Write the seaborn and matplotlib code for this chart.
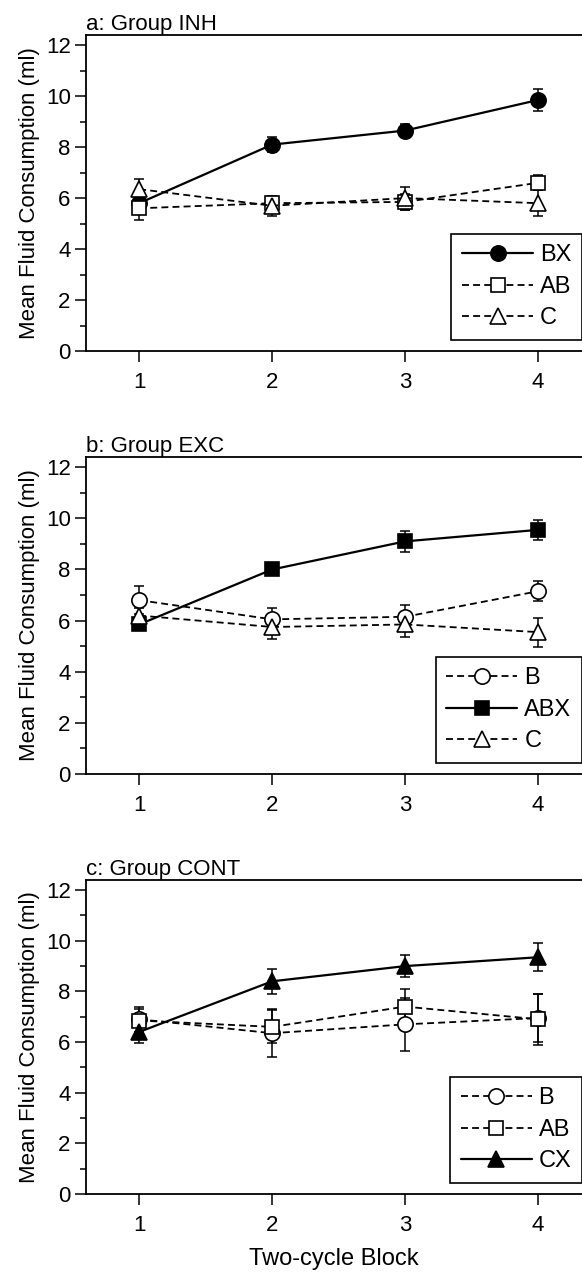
import matplotlib
matplotlib.use("Agg")
import matplotlib.pyplot as plt
import seaborn as sns
import pandas as pd
from matplotlib.ticker import MultipleLocator

# ---------------- data ----------------
blocks = [1, 2, 3, 4]
xtick_labels = ["1", "2", "3", "4"]

# Panel a: Group INH
inh_bx = [5.8, 8.1, 8.65, 9.85]
inh_bx_err = [0.25, 0.3, 0.25, 0.45]
inh_ab = [5.6, 5.8, 5.85, 6.6]
inh_ab_err = [0.45, 0.25, 0.3, 0.3]
inh_c = [6.35, 5.7, 6.0, 5.8]
inh_c_err = [0.4, 0.4, 0.45, 0.5]

# Panel b: Group EXC
exc_b = [6.8, 6.05, 6.15, 7.15]
exc_b_err = [0.55, 0.45, 0.45, 0.4]
exc_abx = [5.85, 8.0, 9.1, 9.55]
exc_abx_err = [0.15, 0.2, 0.4, 0.4]
exc_c = [6.2, 5.75, 5.85, 5.55]
exc_c_err = [0.3, 0.45, 0.5, 0.57]

# Panel c: Group CONT
cont_b = [6.9, 6.35, 6.7, 6.95]
cont_b_err = [0.5, 0.95, 1.05, 0.93]
cont_ab = [6.85, 6.6, 7.4, 6.9]
cont_ab_err = [0.45, 0.65, 0.7, 1.0]
cont_cx = [6.4, 8.4, 9.0, 9.35]
cont_cx_err = [0.45, 0.5, 0.45, 0.55]

panel_titles = ["a: Group INH", "b: Group EXC", "c: Group CONT"]
ylabel = "Mean Fluid Consumption (ml)"
xlabel = "Two-cycle Block"

# ---------------- style ----------------
sns.set_style("ticks")
plt.rcParams["font.family"] = ["Liberation Sans", "DejaVu Sans"]
plt.rcParams["lines.scale_dashes"] = False
plt.rcParams["text.color"] = "black"
plt.rcParams["axes.labelcolor"] = "black"
plt.rcParams["xtick.color"] = "black"
plt.rcParams["ytick.color"] = "black"

FS = 16
DASH = (0, (5, 3))

styles = {
    "BX":  dict(marker="o", mfc="black", ls="-",  ms=11),
    "ABX": dict(marker="s", mfc="black", ls="-",  ms=10.5),
    "CX":  dict(marker="^", mfc="black", ls="-",  ms=12),
    "AB":  dict(marker="s", mfc="white", ls=DASH, ms=10.5),
    "B":   dict(marker="o", mfc="white", ls=DASH, ms=11),
    "C":   dict(marker="^", mfc="white", ls=DASH, ms=12),
}

panels = [
    [("BX", inh_bx, inh_bx_err), ("AB", inh_ab, inh_ab_err), ("C", inh_c, inh_c_err)],
    [("B", exc_b, exc_b_err), ("ABX", exc_abx, exc_abx_err), ("C", exc_c, exc_c_err)],
    [("B", cont_b, cont_b_err), ("AB", cont_ab, cont_ab_err), ("CX", cont_cx, cont_cx_err)],
]

W, H = 582, 1277
fig = plt.figure(figsize=(W / 100, H / 100), dpi=100)

# (top px, bottom px) of each axes
ax_px = [(35, 351), (457, 774), (880, 1194)]
left_px, right_px = 86, 582

for i, (series, (top, bot)) in enumerate(zip(panels, ax_px)):
    ax = fig.add_axes([left_px / W, 1 - bot / H, (right_px - left_px) / W, (bot - top) / H])
    for name, vals, errs in series:
        st = styles[name]
        df = pd.DataFrame({"block": blocks, "value": vals})
        ax.errorbar(blocks, vals, yerr=errs, fmt="none", ecolor="black",
                    elinewidth=1.1, capsize=3.8, capthick=1.1, zorder=2)
        sns.lineplot(data=df, x="block", y="value", ax=ax, color="black",
                     marker=st["marker"], markersize=st["ms"],
                     markerfacecolor=st["mfc"], markeredgecolor="black",
                     markeredgewidth=1.2, linestyle=st["ls"],
                     linewidth=1.6 if st["ls"] == "-" else 1.3,
                     errorbar=None, label=name, zorder=3)

    ax.set_xlim(0.6, 4.33)
    ax.set_ylim(0, 12.4)
    ax.set_xticks(blocks)
    ax.set_xticklabels(xtick_labels)
    ax.set_yticks([0, 2, 4, 6, 8, 10, 12])
    ax.yaxis.set_minor_locator(MultipleLocator(1))
    ax.tick_params(axis="both", which="major", direction="out", length=8,
                   width=1.1, labelsize=FS, colors="black", pad=3)
    ax.tick_params(axis="y", which="minor", direction="out", length=4.5, width=1.1)
    ax.tick_params(axis="x", pad=7)
    for s in ["left", "bottom", "top"]:
        ax.spines[s].set_visible(True)
        ax.spines[s].set_linewidth(1.3)
        ax.spines[s].set_color("black")
    ax.spines["right"].set_visible(False)

    ax.set_title(panel_titles[i], loc="left", fontsize=FS, pad=3, color="black")
    ax.set_ylabel(ylabel, fontsize=FS, labelpad=4)
    if i == 2:
        ax.set_xlabel(xlabel, fontsize=FS + 1, labelpad=9)
    else:
        ax.set_xlabel("")

    leg = ax.legend(loc="lower right", bbox_to_anchor=(1.0, 0.035),
                    borderaxespad=0, fontsize=FS + 1, frameon=True, fancybox=False,
                    edgecolor="black", handlelength=3.0, handletextpad=0.3,
                    labelspacing=0.4, borderpad=0.45, numpoints=1)
    leg.get_frame().set_linewidth(1.2)
    leg.get_frame().set_alpha(1)

fig.savefig("out.png", dpi=100)
